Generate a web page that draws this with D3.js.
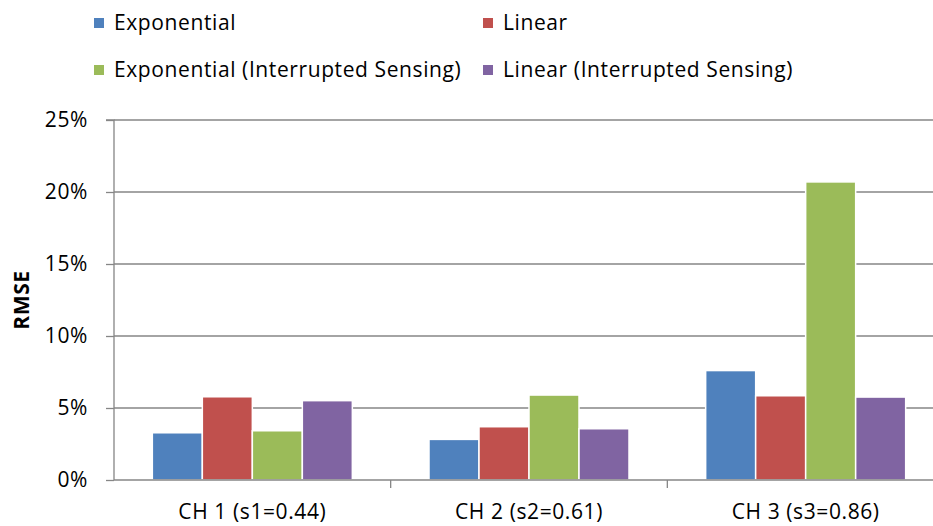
<!DOCTYPE html>
<html><head><meta charset="utf-8">
<script src="https://cdn.jsdelivr.net/npm/d3@7"></script>
<style>body{margin:0;background:#fff}svg{display:block}text{font-family:"Open Sans",sans-serif;fill:#000}</style>
</head><body><svg id="c" width="933" height="526"></svg>
<script>
const categories = ["CH 1 (s1=0.44)", "CH 2 (s2=0.61)", "CH 3 (s3=0.86)"];
const seriesNames = ["Exponential", "Linear", "Exponential (Interrupted Sensing)", "Linear (Interrupted Sensing)"];
const exponential = [3.28, 2.82, 7.6];
const linear = [5.78, 3.70, 5.85];
const exponentialIS = [3.42, 5.90, 20.7];
const linearIS = [5.51, 3.56, 5.76];
const yTicks = [0, 5, 10, 15, 20, 25];
const colors = ["#4F81BD", "#C0504D", "#9BBB59", "#8064A2"];

const seriesValues = [exponential, linear, exponentialIS, linearIS];
const svg = d3.select("#c");
const pLeft = 114, pRight = 944, pTop = 120, pBottom = 480;
const fs = "21px", ls = "0.6px";

const x0 = d3.scaleBand().domain(categories).range([pLeft, pRight]).padding(0);
const bw = x0.bandwidth();
const groupW = 200;
const x1 = d3.scaleBand().domain(seriesNames).range([(bw - groupW) / 2, (bw + groupW) / 2]).padding(0);
const y = d3.scaleLinear().domain([0, 25]).range([pBottom, pTop]);

// gridlines
svg.append("g").selectAll("line").data(yTicks.filter(d => d > 0)).join("line")
  .attr("x1", pLeft).attr("x2", 933)
  .attr("y1", d => y(d)).attr("y2", d => y(d))
  .attr("stroke", "#868686").attr("stroke-width", 1.3);

// bars
const data = [];
categories.forEach((c, i) => seriesNames.forEach((s, j) => data.push({c, s, v: seriesValues[j][i], j})));
svg.append("g").selectAll("rect").data(data).join("rect")
  .attr("x", d => x0(d.c) + x1(d.s))
  .attr("width", x1.bandwidth())
  .attr("y", d => y(d.v))
  .attr("height", d => y(0) - y(d.v))
  .attr("fill", d => colors[d.j])
  .attr("stroke", "#fff").attr("stroke-width", 1.5);

// y axis
const yAxis = d3.axisLeft(y).tickValues(yTicks).tickSize(8).tickPadding(18).tickFormat(d => d + "%");
const gy = svg.append("g").attr("transform", `translate(${pLeft},0)`).call(yAxis);
gy.select(".domain").attr("stroke", "#868686").attr("stroke-width", 1.3).attr("d", `M-8,${pTop}H0V${pBottom}`);
gy.selectAll(".tick line").attr("stroke", "#868686").attr("stroke-width", 1.3);
gy.selectAll(".tick text").style("font-size", fs).style("letter-spacing", ls).style("font-family", '"Open Sans",sans-serif').attr("fill", "#000");

// x axis
const xAxis = d3.axisBottom(x0).tickSize(0).tickPadding(24);
const gx = svg.append("g").attr("transform", `translate(0,${pBottom})`).call(xAxis);
gx.select(".domain").attr("stroke", "#868686").attr("stroke-width", 1.3).attr("d", `M${pLeft},0H933`);
gx.selectAll(".tick text").style("font-size", fs).style("letter-spacing", ls).style("font-family", '"Open Sans",sans-serif').attr("fill", "#000");
// category boundary ticks
svg.append("g").selectAll("line").data(categories).join("line")
  .attr("x1", d => x0(d) + bw).attr("x2", d => x0(d) + bw)
  .attr("y1", pBottom).attr("y2", pBottom + 8)
  .attr("stroke", "#868686").attr("stroke-width", 1.3);

// y title
svg.append("text").attr("transform", "translate(29,300) rotate(-90)")
  .attr("text-anchor", "middle").style("font-size", fs).style("letter-spacing", ls).style("font-weight", "bold").text("RMSE");

// legend
const legPos = [[94, 23], [483, 70 - 47], [94, 70], [483, 70]];
const lg = svg.append("g").selectAll("g").data(seriesNames).join("g")
  .attr("transform", (d, i) => `translate(${legPos[i][0]},${legPos[i][1]})`);
lg.append("rect").attr("x", 0).attr("y", -5).attr("width", 10).attr("height", 10).attr("fill", (d, i) => colors[i]);
lg.append("text").attr("x", 20).attr("y", 0).attr("dy", "0.35em").style("font-size", fs).style("letter-spacing", ls).text(d => d);
</script></body></html>
